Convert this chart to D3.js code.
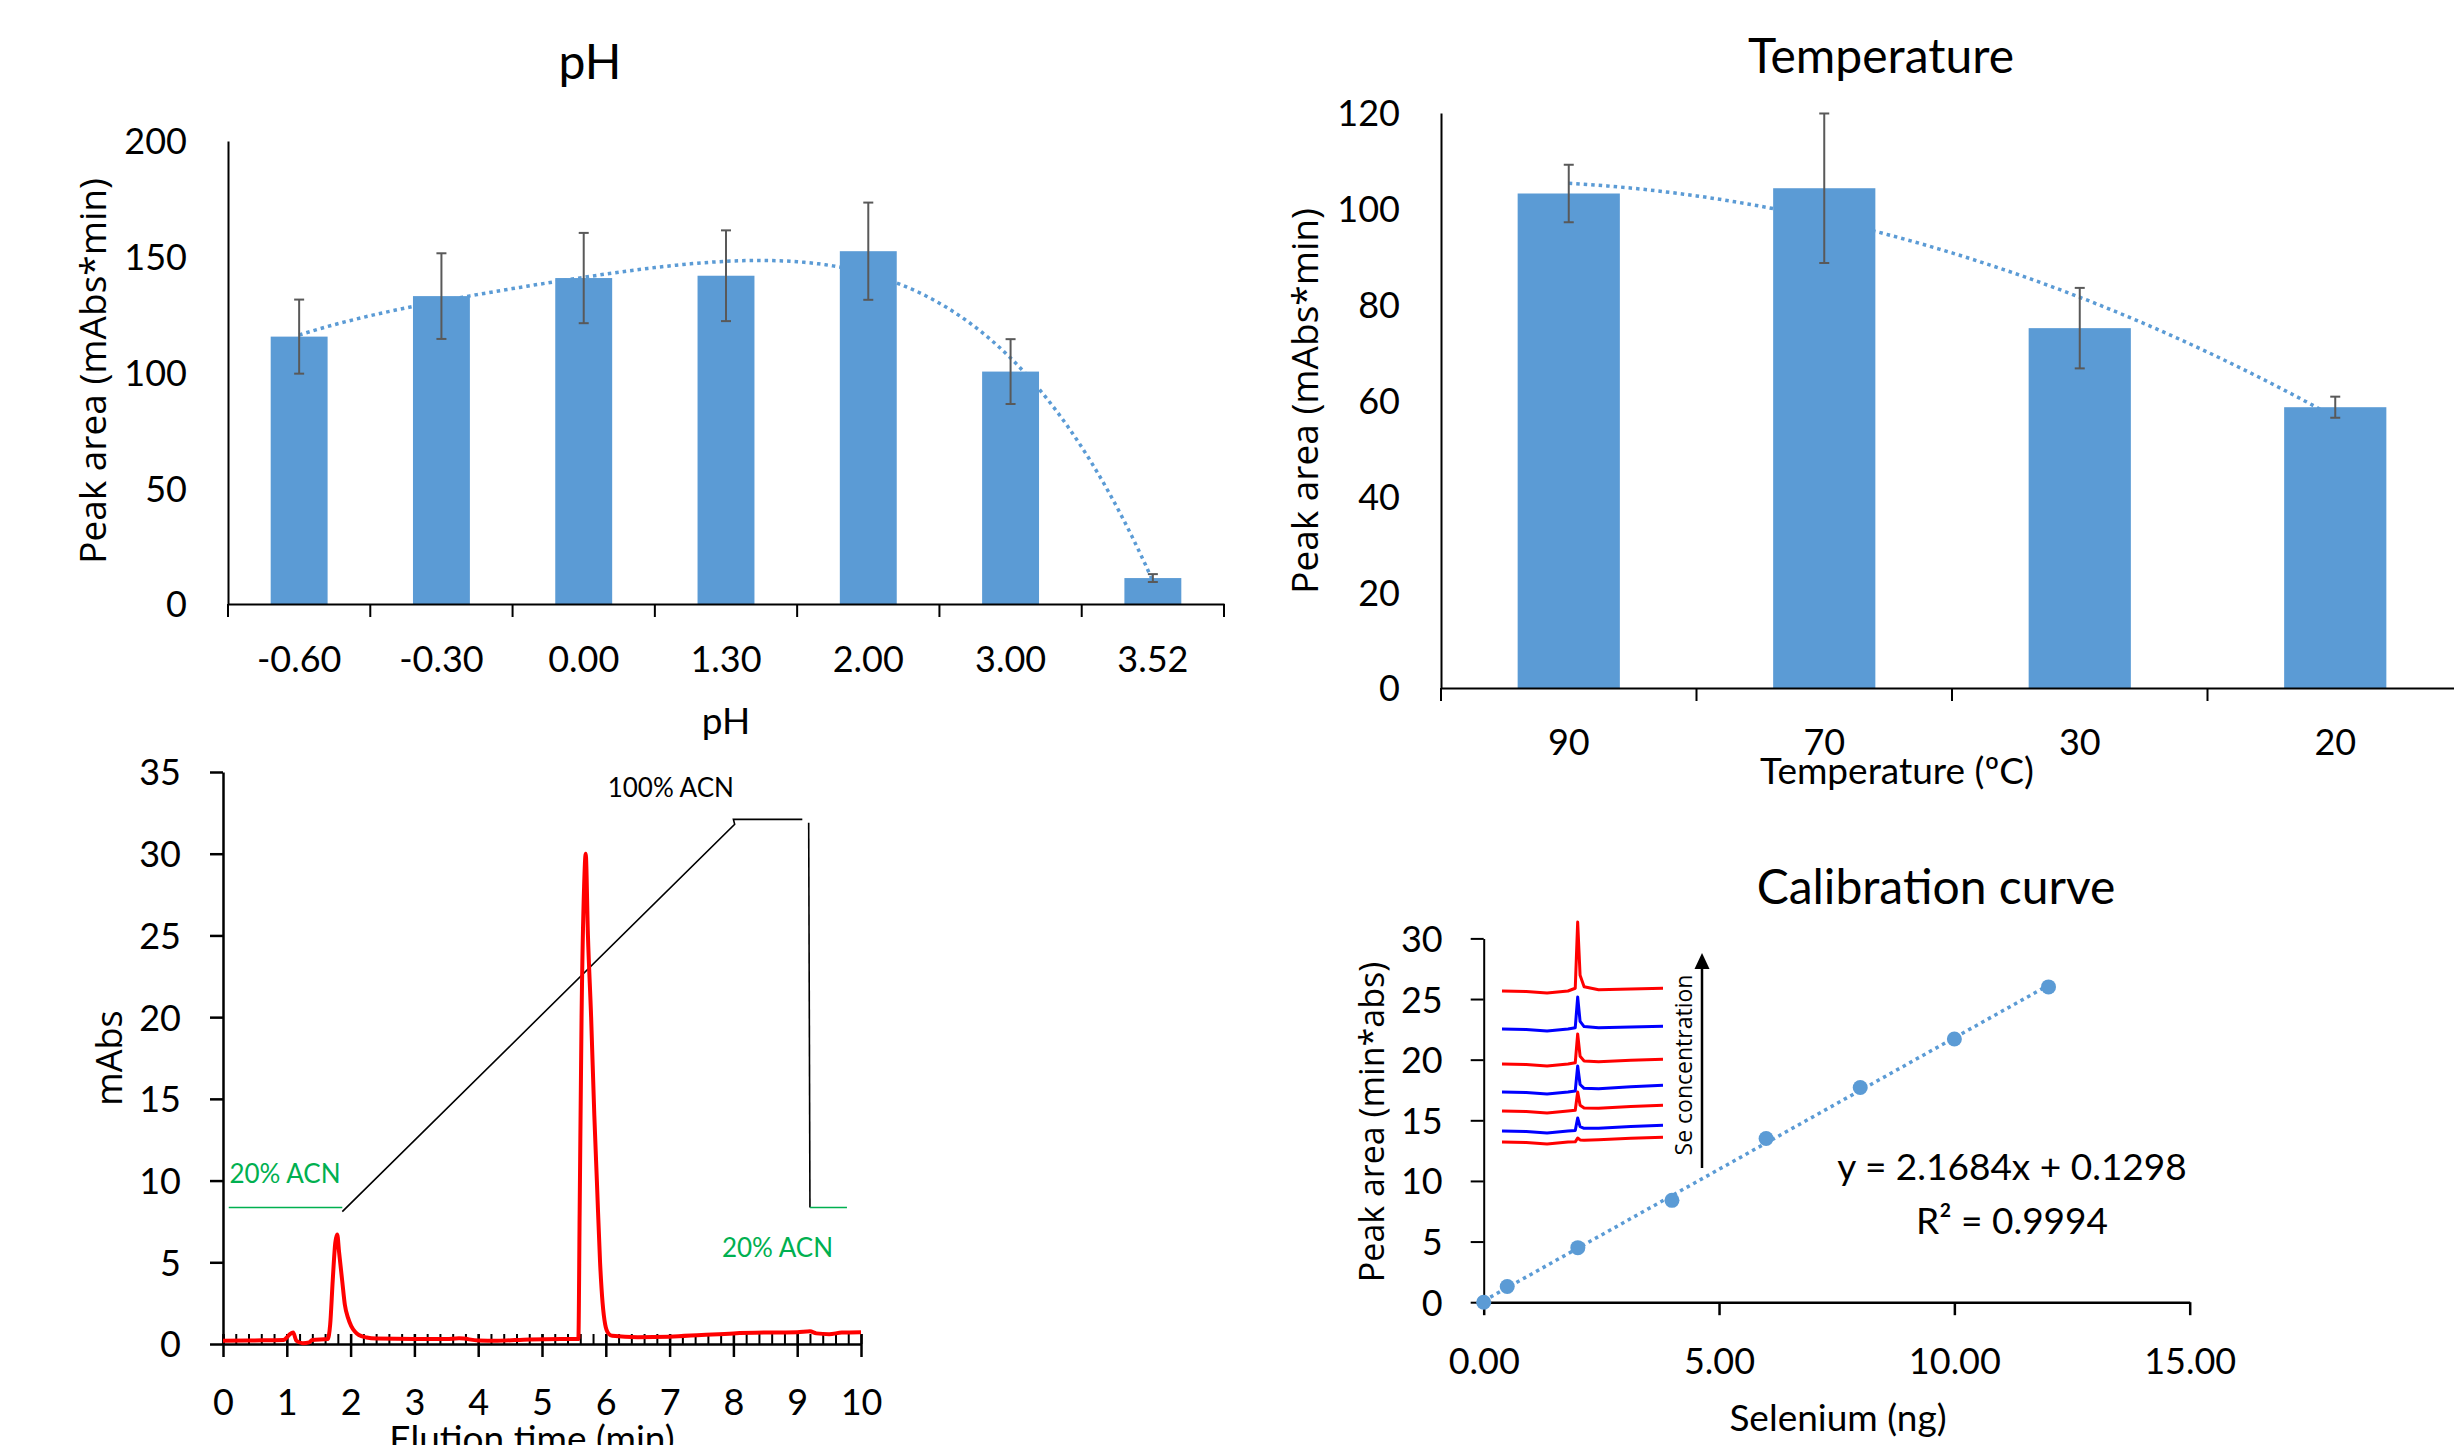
<!DOCTYPE html>
<html>
<head>
<meta charset="utf-8">
<script src="https://cdn.jsdelivr.net/npm/d3@7"></script>
<style>
body { margin: 0; background: #fff; }
text { font-family: Lato, sans-serif; fill: #000; }
.ytitle { font-family: "Open Sans", sans-serif; }
</style>
</head>
<body>
<svg id="fig" width="2454" height="1445"></svg>
<script>

// ---- pH panel
var phCats = ["-0.60", "-0.30", "0.00", "1.30", "2.00", "3.00", "3.52"];
var phVals = [115.5, 133, 140.8, 141.8, 152.4, 100.4, 11.2];
var phErr = [16, 18.5, 19.5, 19.6, 21, 14, 1.7];
var phTicks = [0, 50, 100, 150, 200];

// ---- temperature panel
var tempCats = ["90", "70", "30", "20"];
var tempVals = [103.2, 104.3, 75.1, 58.6];
var tempErr = [6, 15.6, 8.4, 2.2];
var tempTicks = [0, 20, 40, 60, 80, 100, 120];

// ---- chromatogram (min, mAbs)
var chromTime = [0, 0.5, 0.95, 1.0, 1.05, 1.1, 1.15, 1.25, 1.35, 1.4, 1.64, 1.68, 1.72, 1.76, 1.79, 1.82, 1.87, 1.91, 1.96, 2.01, 2.07, 2.13, 2.25, 2.4, 3.0, 3.5, 3.7, 4.0, 4.3, 4.8, 5.3, 5.57, 5.59, 5.62, 5.66, 5.685, 5.72, 5.77, 5.82, 5.86, 5.91, 5.95, 5.99, 6.04, 6.1, 6.5, 7.0, 7.5, 8.0, 8.5, 9.0, 9.2, 9.3, 9.5, 9.7, 10.0];
var chromAbs = [0.2, 0.22, 0.25, 0.4, 0.6, 0.7, 0.2, 0.05, 0.1, 0.25, 0.3, 1.2, 3.9, 6.2, 6.7, 5.6, 3.8, 2.4, 1.6, 1.1, 0.75, 0.55, 0.4, 0.33, 0.3, 0.3, 0.35, 0.22, 0.2, 0.28, 0.3, 0.3, 8, 20, 28, 30, 25, 20, 14, 10, 5, 2.5, 1.2, 0.65, 0.5, 0.42, 0.45, 0.55, 0.65, 0.7, 0.72, 0.78, 0.65, 0.6, 0.7, 0.72];
var chromXTicks = d3.range(0, 11);
var chromYTicks = [0, 5, 10, 15, 20, 25, 30, 35];
// mobile phase programme drawn over the trace
var acnStart = [[0.09, 8.35], [1.87, 8.35]];
var acnRamp = [[1.87, 8.1], [8.02, 31.8], [8.0, 32.1], [9.08, 32.1]];
var acnDrop = [[9.18, 31.9], [9.2, 8.35]];
var acnEnd = [[9.2, 8.35], [9.78, 8.35]];

// ---- calibration
var calX = [0, 0.5, 2, 4, 6, 8, 10, 12];
var calY = [0, 1.3, 4.5, 8.4, 13.5, 17.7, 21.7, 26.0];
var calXTicks = [0, 5, 10, 15];
var calYTicks = [0, 5, 10, 15, 20, 25, 30];

// inset chromatograms (lowest to highest concentration)
var insetOffset = [8, 19, 39, 58, 86, 121, 159];
var insetPeak = [4, 13, 19, 26, 30, 32, 69];
var insetDrift = [4, 5, 5, 6, 4, 2, 2];
var insetColors = ["#ff0000", "#0000ff", "#ff0000", "#0000ff", "#ff0000", "#0000ff", "#ff0000"];
var insetT = [0, 1.5, 2.8, 4.1, 4.55, 4.7, 4.85, 5.1, 6, 8, 10];
var insetShape = [0, 0, 0, 0, 0.04, 1, 0.22, 0.05, 0, 0, 0];
var insetWobble = [0, -0.5, -2, 0, 0, 0, 0, 0, 0.3, 0.5, 0.8];
var insetRamp = [0, 0, 0, 0, 0, 0, 0.3, 0.4, 0.5, 0.8, 1];

var blue = "#5b9bd5";
var errCol = "#595959";
var svg = d3.select("#fig");

function polyfit(xs, ys, order) {
	var n = order + 1, A = [], b = [];
	for (var i = 0; i < n; i++) {
		A.push([]);
		for (var j = 0; j < n; j++) {
			A[i].push(d3.sum(xs, function(x) { return Math.pow(x, i + j); }));
		}
		b.push(d3.sum(xs, function(x, k) { return Math.pow(x, i) * ys[k]; }));
	}
	for (var c = 0; c < n; c++) {
		var p = c;
		for (var r = c + 1; r < n; r++) {
			if (Math.abs(A[r][c]) > Math.abs(A[p][c])) p = r;
		}
		var t = A[c]; A[c] = A[p]; A[p] = t;
		t = b[c]; b[c] = b[p]; b[p] = t;
		for (var r2 = c + 1; r2 < n; r2++) {
			var f = A[r2][c] / A[c][c];
			for (var k = c; k < n; k++) A[r2][k] -= f * A[c][k];
			b[r2] -= f * b[c];
		}
	}
	var coef = new Array(n);
	for (var r3 = n - 1; r3 >= 0; r3--) {
		var s = b[r3];
		for (var k2 = r3 + 1; k2 < n; k2++) s -= A[r3][k2] * coef[k2];
		coef[r3] = s / A[r3][r3];
	}
	return coef;
}

function polyval(coef, x) {
	var s = 0;
	for (var i = 0; i < coef.length; i++) s += coef[i] * Math.pow(x, i);
	return s;
}

function barChart(o) {
	var g = svg.append("g");
	var x = d3.scaleBand().domain(o.cats).range([o.x0, o.x1]).paddingInner(0.6).paddingOuter(0.3);
	var y = d3.scaleLinear().domain([0, o.ymax]).range([o.y0, o.y1]);
	var step = x.step(), bw = x.bandwidth();
	var center = function(i) { return x(o.cats[0]) + bw / 2 + i * step; };

	// polynomial trendline (behind the bars)
	var idx = o.cats.map(function(d, i) { return i + 1; });
	var coef = polyfit(idx, o.vals, o.order);
	var ts = d3.range(1, o.cats.length + 0.001, 0.05);
	g.append("path")
		.attr("d", d3.line()
			.x(function(t) { return center(t - 1); })
			.y(function(t) { return y(polyval(coef, t)); })(ts))
		.attr("fill", "none").attr("stroke", blue)
		.attr("stroke-width", 3.5).attr("stroke-dasharray", "3.5,4");

	g.selectAll("rect.bar").data(o.vals).enter().append("rect")
		.attr("x", function(d, i) { return x(o.cats[i]); })
		.attr("y", function(d) { return y(d); })
		.attr("width", bw)
		.attr("height", function(d) { return y(0) - y(d); })
		.attr("fill", blue);

	// error bars
	var eb = g.selectAll("g.err").data(o.vals).enter().append("g")
		.attr("stroke", errCol).attr("stroke-width", 2);
	eb.append("line")
		.attr("x1", function(d, i) { return center(i); })
		.attr("x2", function(d, i) { return center(i); })
		.attr("y1", function(d, i) { return y(d + o.err[i]); })
		.attr("y2", function(d, i) { return y(d - o.err[i]); });
	[1, -1].forEach(function(sg) {
		eb.append("line")
			.attr("x1", function(d, i) { return center(i) - 5; })
			.attr("x2", function(d, i) { return center(i) + 5; })
			.attr("y1", function(d, i) { return y(d + sg * o.err[i]); })
			.attr("y2", function(d, i) { return y(d + sg * o.err[i]); });
	});

	// y axis without tick marks
	var ya = g.append("g").attr("transform", "translate(" + o.x0 + ",0)")
		.call(d3.axisLeft(y).tickValues(o.yticks).tickSize(0).tickSizeOuter(0).tickPadding(41));
	ya.select(".domain").attr("stroke", "#000").attr("stroke-width", 2);
	ya.selectAll("text").attr("font-family", "Lato, sans-serif").attr("font-size", 36).attr("dy", "0.36em");

	// x axis: labels at bar centres, marks at the category boundaries
	var xa = g.append("g").attr("transform", "translate(0," + o.y0 + ")")
		.call(d3.axisBottom(x).tickSize(0).tickSizeOuter(0).tickPadding(0));
	xa.select(".domain").attr("stroke", "#000").attr("stroke-width", 2);
	xa.selectAll("text").attr("font-family", "Lato, sans-serif").attr("font-size", 36)
		.attr("y", o.labelOff).attr("dy", "0.36em");
	var bounds = d3.range(o.cats.length + 1).map(function(i) { return x(o.cats[0]) - (step - bw) / 2 + i * step; });
	xa.selectAll("line.bd").data(bounds).enter().append("line")
		.attr("x1", function(d) { return d; }).attr("x2", function(d) { return d; })
		.attr("y1", 0).attr("y2", 13)
		.attr("stroke", "#000").attr("stroke-width", 2);

	g.append("text").attr("x", o.titleX).attr("y", o.titleY)
		.attr("text-anchor", "middle").attr("font-size", 48).text(o.title);
	g.append("text").attr("x", o.xtX).attr("y", o.xtY)
		.attr("text-anchor", "middle").attr("font-size", 37).text(o.xtitle);
	g.append("text").attr("class", "ytitle")
		.attr("transform", "translate(" + o.ytX + "," + o.ytY + ") rotate(-90)")
		.attr("text-anchor", "middle").attr("font-size", 37).text("Peak area (mAbs*min)");
}

barChart({
	cats: phCats, vals: phVals, err: phErr, yticks: phTicks, ymax: 200, order: 4,
	x0: 228, x1: 1224, y0: 604, y1: 141, labelOff: 55,
	title: "pH", titleX: 590, titleY: 79,
	xtitle: "pH", xtX: 726, xtY: 734,
	ytX: 106, ytY: 371
});

barChart({
	cats: tempCats, vals: tempVals, err: tempErr, yticks: tempTicks, ymax: 120, order: 2,
	x0: 1441, x1: 2463, y0: 688, y1: 113, labelOff: 54,
	title: "Temperature", titleX: 1881, titleY: 73,
	xtitle: "Temperature (ºC)", xtX: 1897, xtY: 784,
	ytX: 1318, ytY: 401
});

// ---- chromatogram
(function() {
	var g = svg.append("g");
	var x = d3.scaleLinear().domain([0, 10]).range([223, 861]);
	var y = d3.scaleLinear().domain([0, 35]).range([1344, 772]);

	var ya = g.append("g").attr("transform", "translate(223,0)")
		.call(d3.axisLeft(y).tickValues(chromYTicks).tickSize(13).tickSizeOuter(0).tickPadding(29));
	ya.selectAll(".domain, line").attr("stroke", "#000").attr("stroke-width", 2.5);
	ya.selectAll("text").attr("font-family", "Lato, sans-serif").attr("font-size", 36).attr("dy", "0.36em");

	// minor ticks every 0.2 min, inside
	var xm = g.append("g").attr("transform", "translate(0,1344)")
		.call(d3.axisBottom(x).ticks(50).tickSize(-10).tickSizeOuter(0).tickFormat(""));
	xm.selectAll(".domain").remove();
	xm.selectAll("line").attr("stroke", "#000").attr("stroke-width", 2);

	var xa = g.append("g").attr("transform", "translate(0,1344)")
		.call(d3.axisBottom(x).tickValues(chromXTicks).tickSize(13).tickSizeOuter(0).tickPadding(0));
	xa.selectAll(".domain").attr("stroke", "#000").attr("stroke-width", 2.5);
	xa.selectAll(".tick line").attr("y1", -10).attr("stroke", "#000").attr("stroke-width", 2.5);
	xa.selectAll("text").attr("font-family", "Lato, sans-serif").attr("font-size", 36)
		.attr("y", 58).attr("dy", "0.36em");

	var line = d3.line().x(function(d) { return x(d[0]); }).y(function(d) { return y(d[1]); });
	g.append("path").attr("d", line(acnStart)).attr("fill", "none").attr("stroke", "#00b050").attr("stroke-width", 1.6);
	g.append("path").attr("d", line(acnRamp)).attr("fill", "none").attr("stroke", "#000").attr("stroke-width", 1.6);
	g.append("path").attr("d", line(acnDrop)).attr("fill", "none").attr("stroke", "#000").attr("stroke-width", 1.6);
	g.append("path").attr("d", line(acnEnd)).attr("fill", "none").attr("stroke", "#00b050").attr("stroke-width", 1.6);

	var pts = chromTime.map(function(t, i) { return [t, chromAbs[i]]; });
	g.append("path").attr("d", line.curve(d3.curveMonotoneX)(pts))
		.attr("fill", "none").attr("stroke", "#ff0000").attr("stroke-width", 4)
		.attr("stroke-linejoin", "round");

	g.append("text").attr("x", x(0.1)).attr("y", y(9.85)).attr("font-size", 26)
		.style("fill", "#00b050").text("20% ACN");
	g.append("text").attr("x", x(6.03)).attr("y", y(33.5)).attr("font-size", 26).text("100% ACN");
	g.append("text").attr("x", x(7.82)).attr("y", y(5.3)).attr("font-size", 26)
		.style("fill", "#00b050").text("20% ACN");

	g.append("text").attr("class", "ytitle")
		.attr("transform", "translate(122,1058) rotate(-90)")
		.attr("text-anchor", "middle").attr("font-size", 36).text("mAbs");
	g.append("text").attr("x", 532).attr("y", 1452)
		.attr("text-anchor", "middle").attr("font-size", 37).text("Elution time (min)");
})();

// ---- calibration curve
(function() {
	var g = svg.append("g");
	var x = d3.scaleLinear().domain([0, 15]).range([1483.7, 2189.7]);
	var y = d3.scaleLinear().domain([0, 30]).range([1302.2, 938.4]);

	var ya = g.append("g").attr("transform", "translate(1483.7,0)")
		.call(d3.axisLeft(y).tickValues(calYTicks).tickSize(13).tickSizeOuter(0).tickPadding(28));
	ya.selectAll(".domain, line").attr("stroke", "#000").attr("stroke-width", 2);
	ya.selectAll("text").attr("font-family", "Lato, sans-serif").attr("font-size", 36).attr("dy", "0.36em");

	var xa = g.append("g").attr("transform", "translate(0,1302.2)")
		.call(d3.axisBottom(x).tickValues(calXTicks).tickSize(13).tickSizeOuter(0).tickPadding(0)
			.tickFormat(d3.format(".2f")));
	xa.selectAll(".domain, line").attr("stroke", "#000").attr("stroke-width", 2.5);
	xa.selectAll("text").attr("font-family", "Lato, sans-serif").attr("font-size", 36)
		.attr("y", 59).attr("dy", "0.36em");

	// inset: chromatograms at increasing Se concentration
	var ix = d3.scaleLinear().domain([0, 10]).range([1502, 1663]);
	var iy = d3.scaleLinear().domain([0, 230]).range([1150, 920]);
	insetOffset.forEach(function(off, k) {
		var tr = insetT.map(function(t, i) {
			return [t, off + insetWobble[i] + insetDrift[k] * insetRamp[i] + insetPeak[k] * insetShape[i]];
		});
		g.append("path")
			.attr("d", d3.line().x(function(d) { return ix(d[0]); }).y(function(d) { return iy(d[1]); })(tr))
			.attr("fill", "none").attr("stroke", insetColors[k]).attr("stroke-width", 3)
			.attr("stroke-linejoin", "round");
	});
	g.append("line").attr("x1", 1702).attr("x2", 1702).attr("y1", 1168).attr("y2", 966)
		.attr("stroke", "#000").attr("stroke-width", 2.5);
	g.append("path").attr("d", "M1702,953 L1709.5,969 L1694.5,969 Z").attr("fill", "#000");
	g.append("text").attr("class", "ytitle")
		.attr("transform", "translate(1692,1065) rotate(-90)")
		.attr("text-anchor", "middle").attr("font-size", 23).text("Se concentration");

	// linear trendline from the data
	var coef = polyfit(calX, calY, 1);
	var ends = [0, d3.max(calX)];
	g.append("path")
		.attr("d", d3.line().x(function(d) { return x(d); }).y(function(d) { return y(polyval(coef, d)); })(ends))
		.attr("fill", "none").attr("stroke", blue).attr("stroke-width", 3.5).attr("stroke-dasharray", "3.5,4");

	g.selectAll("circle").data(calX).enter().append("circle")
		.attr("cx", function(d) { return x(d); })
		.attr("cy", function(d, i) { return y(calY[i]); })
		.attr("r", 7.5).attr("fill", blue);

	g.append("text").attr("x", 2012).attr("y", 1180).attr("text-anchor", "middle")
		.attr("font-size", 37).text("y = 2.1684x + 0.1298");
	g.append("text").attr("x", 2012).attr("y", 1234).attr("text-anchor", "middle")
		.attr("font-size", 37).text("R² = 0.9994");

	g.append("text").attr("x", 1936).attr("y", 904).attr("text-anchor", "middle")
		.attr("font-size", 48).text("Calibration curve");
	g.append("text").attr("x", 1838).attr("y", 1431).attr("text-anchor", "middle")
		.attr("font-size", 37).text("Selenium (ng)");
	g.append("text").attr("class", "ytitle")
		.attr("transform", "translate(1384,1122) rotate(-90)")
		.attr("text-anchor", "middle").attr("font-size", 34).text("Peak area (min*abs)");
})();
</script>
</body>
</html>
